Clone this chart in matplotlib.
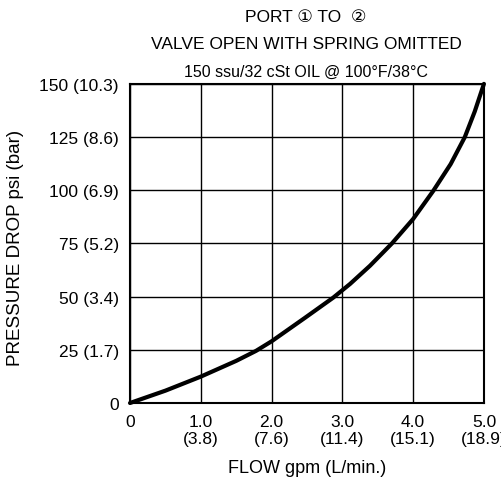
import numpy as np
import matplotlib.pyplot as plt

plt.rcParams['font.family'] = ['Liberation Sans', 'DejaVu Sans', 'Noto Sans CJK JP']

# flow (gpm) vs pressure drop (psi)
flow = [0.0, 0.5, 1.0, 1.5, 1.78, 2.0, 2.47, 2.87, 3.11, 3.39, 3.7, 4.0, 4.28, 4.53, 4.73, 4.87, 5.0]
psi = [0.0, 5.8, 12.4, 19.8, 24.5, 29.0, 40.0, 49.5, 56.0, 64.5, 75.0, 86.5, 99.5, 112.3, 125.0, 137.0, 150.0]

x_ticks = [0, 1, 2, 3, 4, 5]
x_labels = ['0', '1.0\n(3.8)', '2.0\n(7.6)', '3.0\n(11.4)', '4.0\n(15.1)', '5.0\n(18.9)']
y_ticks = [0, 25, 50, 75, 100, 125, 150]
y_labels = ['0', '25 (1.7)', '50 (3.4)', '75 (5.2)', '100 (6.9)', '125 (8.6)', '150 (10.3)']

fig = plt.figure(figsize=(5.02, 4.85), dpi=100)
ax = fig.add_axes([0.259, 0.167, 0.705, 0.658])

ax.plot(flow, psi, color='black', linewidth=3, solid_capstyle='round',
        solid_joinstyle='round', clip_on=False, zorder=3)

ax.set_xlim(0, 5)
ax.set_ylim(0, 150)
ax.set_xticks(x_ticks)
ax.set_xticklabels(x_labels, fontsize=12.5, linespacing=1.15)
ax.set_yticks(y_ticks)
ax.set_yticklabels(y_labels, fontsize=12.5)
ax.tick_params(axis='y', length=0, pad=8)
ax.tick_params(axis='x', length=0, pad=8)
ax.grid(True, color='black', linewidth=1)
for s in ax.spines.values():
    s.set_linewidth(1.5)

ax.set_xlabel('FLOW gpm (L/min.)', fontsize=13)
ax.xaxis.set_label_coords(0.5, -0.175)
ax.set_ylabel('PRESSURE DROP psi (bar)', fontsize=13.5)
ax.yaxis.set_label_coords(-0.3, 0.49)

fig.text(0.61, 0.963, 'PORT \u2460 TO  \u2461', ha='center', va='center', fontsize=12.5)
fig.text(0.61, 0.909, 'VALVE OPEN WITH SPRING OMITTED', ha='center', va='center', fontsize=12.5)
fig.text(0.61, 0.851, '150 ssu/32 cSt OIL @ 100\u00b0F/38\u00b0C', ha='center', va='center', fontsize=11.5)

fig.savefig('out.png', dpi=100)
